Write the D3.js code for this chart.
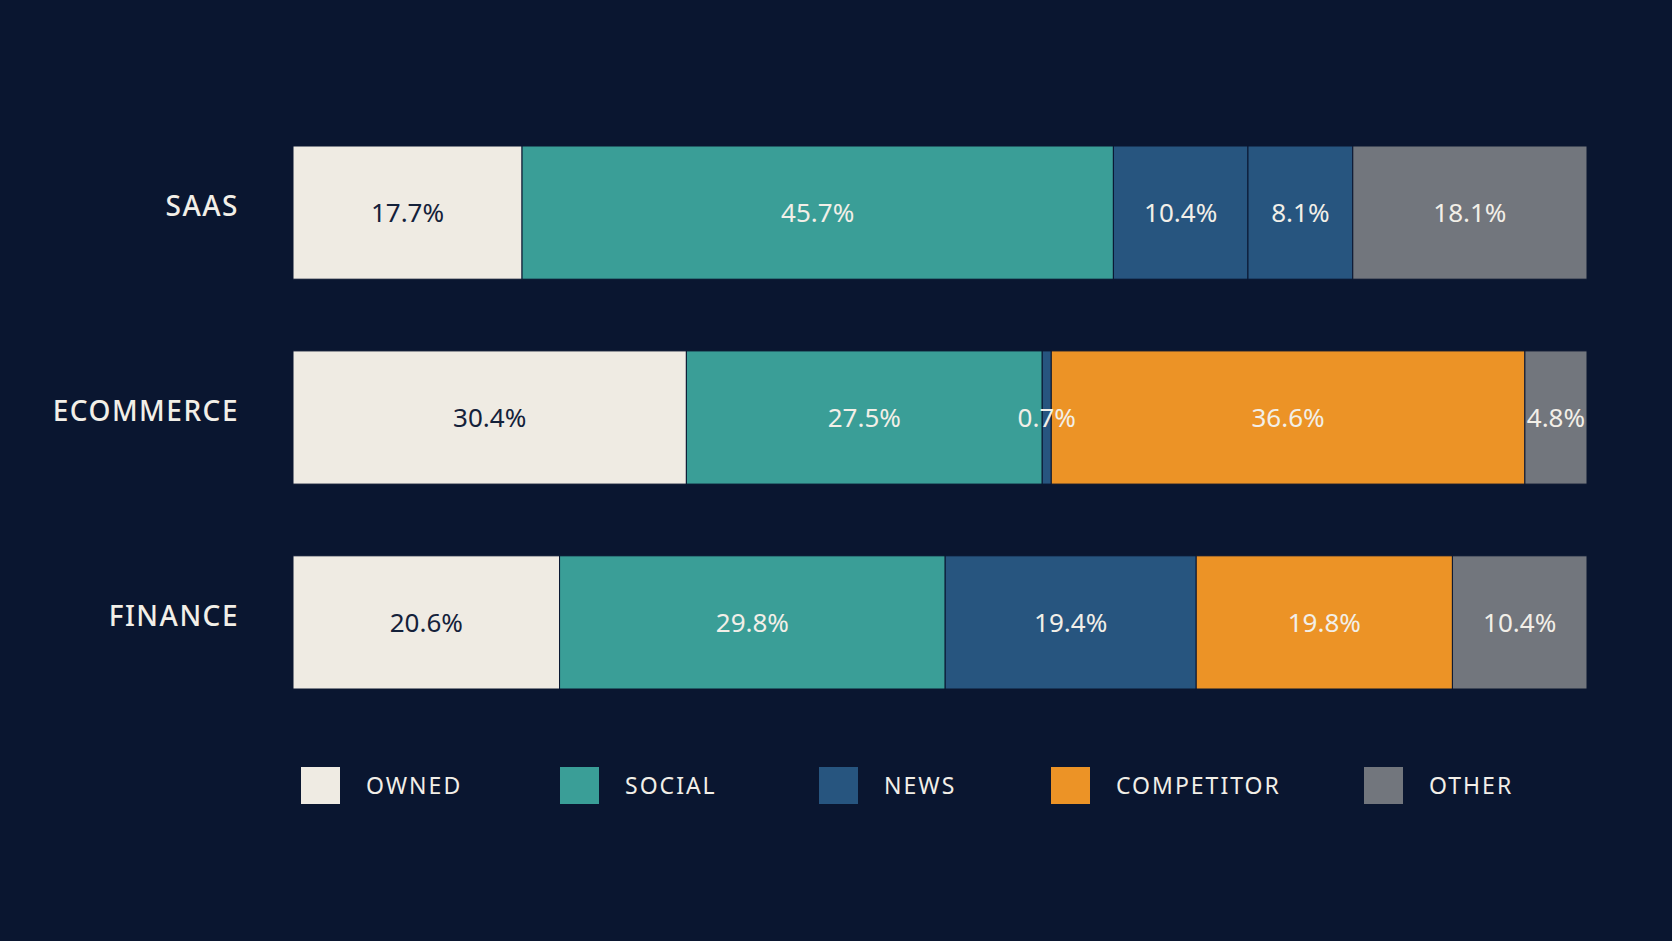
<!DOCTYPE html>
<meta charset="utf-8">
<script src="https://d3js.org/d3.v7.min.js"></script>
<style>
  body { margin: 0; background: #0a1630; }
  text { font-family: "Noto Sans", sans-serif; }
</style>
<div id="chart"></div>
<script>
    // data
    var industries = ["SAAS", "ECOMMERCE", "FINANCE"];
    var sources = ["OWNED", "SOCIAL", "NEWS", "COMPETITOR", "OTHER"];
    var owned      = [17.7, 30.4, 20.6];
    var social     = [45.7, 27.5, 29.8];
    var news       = [10.4, 0.7, 19.4];
    var competitor = [8.1, 36.6, 19.8];
    var other      = [18.1, 4.8, 10.4];
    var colors = ["#efebe3", "#3a9e97", "#27557f", "#ec9326", "#72767d"];
    // in the picture the SaaS competitor block is painted in the news blue
    var cellColorOverride = {"SAAS|COMPETITOR": "#27557f"};

    var W = 1672, H = 941;
    var svg = d3.select("#chart").append("svg")
        .attr("width", W).attr("height", H);
    svg.append("rect").attr("width", W).attr("height", H).attr("fill", "#0a1630");

    var series = [owned, social, news, competitor, other];
    var rows = industries.map(function(name, i) {
        var x0 = 0;
        return {name: name, cells: sources.map(function(s, j) {
            var c = {source: s, j: j, v: series[j][i], x0: x0};
            x0 += c.v; return c;
        })};
    });

    var x = d3.scaleLinear().domain([0, 100]).range([293, 1587]);
    var y = d3.scaleBand().domain(industries).range([146, 689]).paddingInner(0.35);

    var g = svg.selectAll(".row").data(rows).enter().append("g")
        .attr("transform", function(d) { return "translate(0," + y(d.name) + ")"; });

    g.append("text")
        .attr("x", 239).attr("y", y.bandwidth() / 2 - 6).attr("dy", "0.35em")
        .attr("text-anchor", "end")
        .attr("fill", "#f2efe8").style("font-size", "28px").style("font-weight", 500)
        .style("letter-spacing", "1.5px")
        .text(function(d) { return d.name; });

    var cell = g.selectAll(".cell").data(function(d) {
        return d.cells.map(function(c) { c.row = d.name; return c; });
    }).enter();

    cell.append("rect")
        .attr("x", function(d) { return x(d.x0); })
        .attr("width", function(d) { return x(d.x0 + d.v) - x(d.x0); })
        .attr("height", y.bandwidth())
        .attr("fill", function(d) { return cellColorOverride[d.row + "|" + d.source] || colors[d.j]; })
        .attr("stroke", "#0a1630").attr("stroke-width", 1);

    cell.append("text")
        .attr("x", function(d) { return x(d.x0 + d.v / 2); })
        .attr("y", y.bandwidth() / 2).attr("dy", "0.36em")
        .attr("text-anchor", "middle")
        .attr("fill", function(d) { return d.j === 0 ? "#14213a" : "#f2efe8"; })
        .style("font-size", "26px")
        .text(function(d) { return d.v.toFixed(1) + "%"; });

    // legend
    var legendX = [301, 560, 819, 1051, 1364];
    var lg = svg.selectAll(".lg").data(sources).enter().append("g")
        .attr("transform", function(d, i) { return "translate(" + legendX[i] + ",767)"; });
    lg.append("rect").attr("width", 39).attr("height", 37)
        .attr("fill", function(d, i) { return colors[i]; });
    lg.append("text").attr("x", 65).attr("y", 19).attr("dy", "0.35em")
        .attr("fill", "#f2efe8").style("font-size", "23px").style("letter-spacing", "2px")
        .text(function(d) { return d; });
</script>
